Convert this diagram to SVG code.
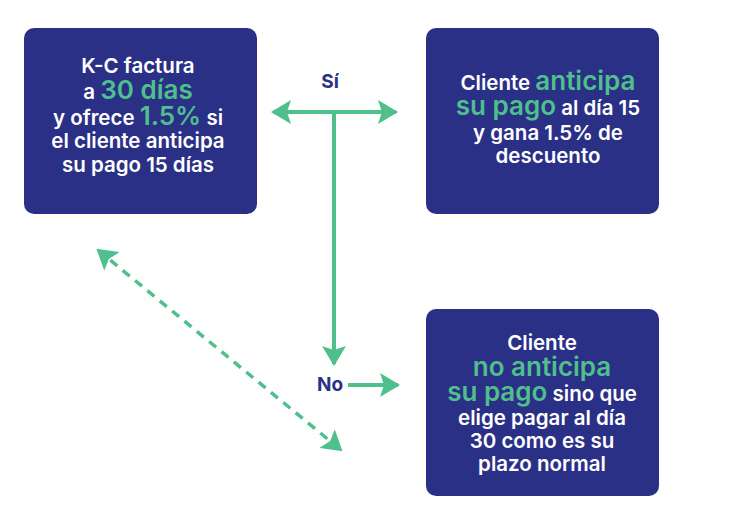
<svg xmlns="http://www.w3.org/2000/svg" width="737" height="524" viewBox="0 0 737 524">
<style>
.box{fill:#2b3087}
.t{font-family:Inter,"Liberation Sans",sans-serif;font-weight:600;font-size:20.5px;fill:#ffffff;text-anchor:middle}
.g{fill:#4fbf8b;font-size:26px}
.lbl{font-family:Inter,"Liberation Sans",sans-serif;font-weight:700;font-size:19px;fill:#2b3087;text-anchor:middle}
.ln{stroke:#4fbf8b;stroke-width:4;fill:none}
.dash{stroke:#4fbf8b;stroke-width:3.5;fill:none;stroke-dasharray:9 7}
</style>
<defs>
<marker id="ah" viewBox="0 0 20 24" refX="18" refY="12" markerWidth="20" markerHeight="24" markerUnits="userSpaceOnUse" orient="auto-start-reverse">
<path d="M0,0 L20,12 L0,24 L4,12 Z" fill="#4fbf8b"/>
</marker>
</defs>
<rect width="737" height="524" fill="#ffffff"/>
<g id="connectors">
<line class="ln" x1="273" y1="112" x2="396" y2="112" marker-start="url(#ah)" marker-end="url(#ah)"/>
<line class="ln" x1="334" y1="112" x2="334" y2="364" marker-end="url(#ah)"/>
<line class="ln" x1="348" y1="385" x2="398" y2="385" marker-end="url(#ah)"/>
<line class="dash" x1="98" y1="250" x2="341" y2="450" marker-start="url(#ah)" marker-end="url(#ah)"/>
<text class="lbl" x="330" y="88">Sí</text>
<text class="lbl" x="330" y="391">No</text>
</g>
<g id="node-kc">
<rect class="box" x="24" y="28" width="233" height="186" rx="10"/>
<text class="t" x="138" y="73">K-C factura</text>
<text class="t" x="138" y="99">a <tspan class="g">30 días</tspan></text>
<text class="t" x="138" y="125">y ofrece <tspan class="g">1.5%</tspan> si</text>
<text class="t" x="138" y="148">el cliente anticipa</text>
<text class="t" x="138" y="172">su pago 15 días</text>
</g>
<g id="node-si">
<rect class="box" x="426" y="28" width="233" height="186" rx="10"/>
<text class="t" x="548" y="90">Cliente <tspan class="g">anticipa</tspan></text>
<text class="t" x="548" y="115"><tspan class="g">su pago</tspan> al día 15</text>
<text class="t" x="548" y="140">y gana 1.5% de</text>
<text class="t" x="548" y="163">descuento</text>
</g>
<g id="node-no">
<rect class="box" x="426" y="309" width="233" height="187" rx="10"/>
<text class="t" x="542" y="350">Cliente</text>
<text class="t" x="542" y="376"><tspan class="g">no anticipa</tspan></text>
<text class="t" x="542" y="401"><tspan class="g">su pago</tspan> sino que</text>
<text class="t" x="542" y="425">elige pagar al día</text>
<text class="t" x="542" y="448">30 como es su</text>
<text class="t" x="542" y="471">plazo normal</text>
</g>
</svg>
